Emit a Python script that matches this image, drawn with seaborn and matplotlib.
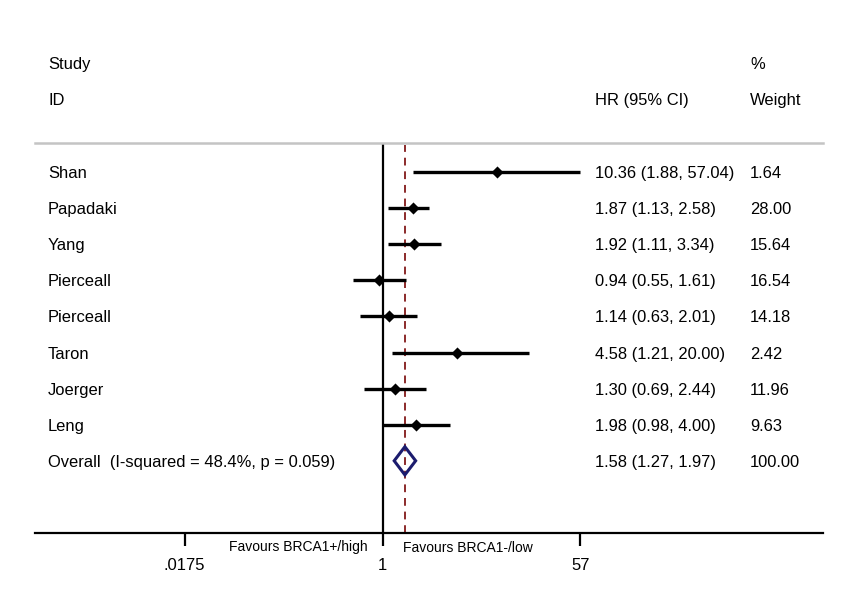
import numpy as np
import pandas as pd
import matplotlib
matplotlib.use("Agg")
import matplotlib.pyplot as plt
import matplotlib.transforms as mtransforms
from matplotlib.patches import Polygon
import seaborn as sns

# ---- data ----
studies = ["Shan", "Papadaki", "Yang", "Pierceall", "Pierceall", "Taron", "Joerger", "Leng"]
hr = [10.36, 1.87, 1.92, 0.94, 1.14, 4.58, 1.30, 1.98]
ci_low = [1.88, 1.13, 1.11, 0.55, 0.63, 1.21, 0.69, 0.98]
ci_high = [57.04, 2.58, 3.34, 1.61, 2.01, 20.00, 2.44, 4.00]
weights = [1.64, 28.00, 15.64, 16.54, 14.18, 2.42, 11.96, 9.63]
overall_label = "Overall  (I-squared = 48.4%, p = 0.059)"
overall_hr = 1.58
overall_low = 1.27
overall_high = 1.97
overall_weight = 100.00
xticks = [0.0175, 1, 57]
xtick_labels = [".0175", "1", "57"]
favours_left = "Favours BRCA1+/high"
favours_right = "Favours BRCA1-/low"

sns.set_theme(style="white")
plt.rcParams["font.family"] = ["Liberation Sans", "DejaVu Sans"]
plt.rcParams["text.color"] = "black"
plt.rcParams["xtick.color"] = "black"

W, H = 846, 605
fig = plt.figure(figsize=(W / 100, H / 100), dpi=100)
left_px, right_px, top_px, bot_px = 35, 823, 143, 533
ax = fig.add_axes([left_px / W, 1 - bot_px / H, (right_px - left_px) / W, (bot_px - top_px) / H])

# x scale: log, 1 at px 382.5, ~48.9 px per ln unit
x1_px = 382.5
ppl = 48.9
ax.set_xscale("log")
ax.set_xlim(np.exp((left_px - x1_px) / ppl), np.exp((right_px - x1_px) / ppl))
row0_px, row_step = 172, 36.1
ax.set_ylim((bot_px - row0_px) / row_step, (top_px - row0_px) / row_step)

df = pd.DataFrame({"study": studies, "hr": hr, "lo": ci_low, "hi": ci_high,
                   "w": weights, "row": np.arange(len(studies))})

# reference lines
ax.axvline(1, color="black", lw=1.6, zorder=1)
ax.axvline(overall_hr, ymin=0, ymax=0.995, color="#8b2a2a", lw=1.4, ls=(0, (4, 3)), zorder=1)

# CI lines
ax.hlines(df["row"], df["lo"], df["hi"], color="black", lw=2.4, zorder=2)
sns.scatterplot(data=df, x="hr", y="row", marker="D", s=38, color="black",
                edgecolor="black", linewidth=0, zorder=3, ax=ax, legend=False)

# overall diamond
orow = len(studies)
dh = 0.39
diamond = Polygon([(overall_low, orow), (overall_hr, orow - dh), (overall_high, orow),
                   (overall_hr, orow + dh)], closed=True, fill=False,
                  edgecolor="#1c1c6e", lw=2.2, zorder=3)
ax.add_patch(diamond)

# spines
for s in ["left", "right"]:
    ax.spines[s].set_visible(False)
ax.spines["top"].set_color("#c4c4c4")
ax.spines["top"].set_linewidth(1.8)
ax.spines["bottom"].set_color("black")
ax.spines["bottom"].set_linewidth(1.6)

ax.set_xticks(xticks)
ax.set_xticklabels(xtick_labels, fontsize=12, color="black")
ax.xaxis.set_minor_locator(matplotlib.ticker.NullLocator())
ax.tick_params(axis="x", which="major", direction="out", length=9.5, width=1.6,
               pad=8.5, bottom=True, colors="black")
ax.set_yticks([])
ax.set_xlabel("")
ax.set_ylabel("")

# text columns
trans = mtransforms.blended_transform_factory(ax.transAxes, ax.transData)
fx = lambda px: (px - left_px) / (right_px - left_px)
fs = 11.9
va = "center_baseline"
tc = "black"
for i, r in df.iterrows():
    ax.text(fx(48), r["row"], r["study"], transform=trans, va=va, ha="left", fontsize=fs, color=tc)
    ax.text(fx(595), r["row"], f"{r['hr']:.2f} ({r['lo']:.2f}, {r['hi']:.2f})",
            transform=trans, va=va, ha="left", fontsize=fs, color=tc)
    ax.text(fx(750), r["row"], f"{r['w']:.2f}", transform=trans, va=va, ha="left", fontsize=fs, color=tc)
ax.text(fx(48), orow, overall_label, transform=trans, va=va, ha="left", fontsize=fs, color=tc)
ax.text(fx(595), orow, f"{overall_hr:.2f} ({overall_low:.2f}, {overall_high:.2f})",
        transform=trans, va=va, ha="left", fontsize=fs, color=tc)
ax.text(fx(750), orow, f"{overall_weight:.2f}", transform=trans, va=va, ha="left", fontsize=fs, color=tc)

# headers
hy1 = (63 - row0_px) / row_step
hy2 = (99 - row0_px) / row_step
for xp, yv, s in [(48, hy1, "Study"), (48, hy2, "ID"), (595, hy2, "HR (95% CI)"),
                  (750, hy1, "%"), (750, hy2, "Weight")]:
    ax.text(fx(xp), yv, s, transform=trans, va=va, ha="left", fontsize=fs, color=tc, clip_on=False)

# favours labels
fy = (546 - row0_px) / row_step
ax.text(fx(368), fy, favours_left, transform=trans, va=va, ha="right", fontsize=10, color=tc, clip_on=False)
ax.text(fx(403), fy, favours_right, transform=trans, va=va, ha="left", fontsize=10, color=tc, clip_on=False)

fig.savefig("out.png", dpi=100, facecolor="white")
